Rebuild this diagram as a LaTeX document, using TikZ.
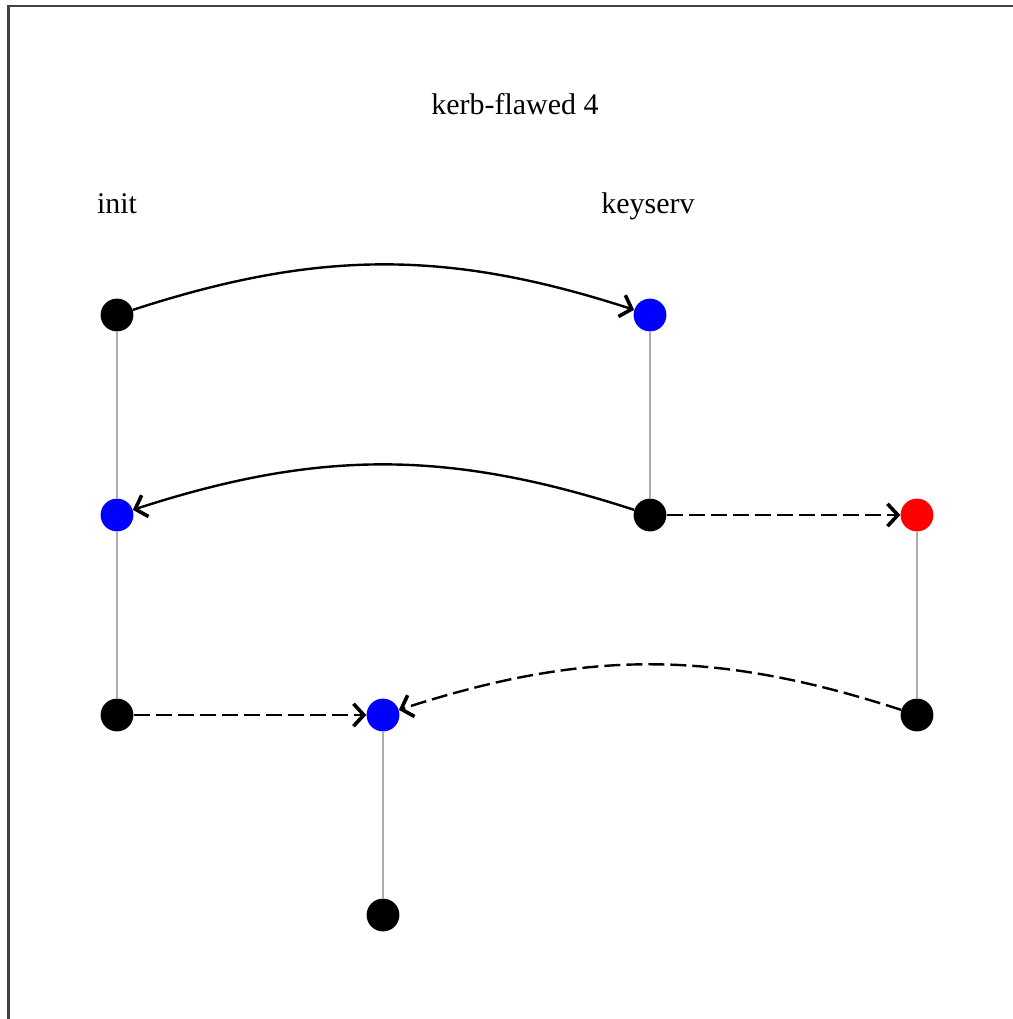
\documentclass[tikz,border=0pt]{standalone}
\usepackage{fontspec}
\setmainfont{Liberation Serif}
\usetikzlibrary{arrows.meta}

\begin{document}
\begin{tikzpicture}[x=2.5cm,y=-2.5cm,
	dot/.style={circle,fill=black,inner sep=0pt,minimum size=0.82cm},
	strand/.style={draw=gray!65,line width=0.05cm},
	msg/.style={line width=0.06cm,-{Straight Barb[length=0.26cm,width=0.56cm,line width=0.09cm]}},
	lbl/.style={anchor=base,font=\fontsize{21.3}{25}\selectfont}]
	\useasboundingbox (0,0) rectangle (10.13,10.19);
	\draw[line width=0.07cm,color=black!75] (0.085,10.19) -- (0.085,0.06) -- (10.13,0.06);
	\node[lbl] (title) at (5.15,1.14) {kerb-flawed 4};
	\node[lbl] (init) at (1.17,2.13) {init};
	\node[lbl] (keyserv) at (6.48,2.13) {keyserv};
	\node[dot] (i1) at (1.17,3.15) {};
	\node[dot,fill=blue] (i2) at (1.17,5.15) {};
	\node[dot] (i3) at (1.17,7.15) {};
	\node[dot,fill=blue] (k1) at (6.5,3.15) {};
	\node[dot] (k2) at (6.5,5.15) {};
	\node[dot,fill=red] (p1) at (9.17,5.15) {};
	\node[dot] (p2) at (9.17,7.15) {};
	\node[dot,fill=blue] (q1) at (3.83,7.15) {};
	\node[dot] (q2) at (3.83,9.15) {};
	\draw[strand] (i1) -- (i2) -- (i3);
	\draw[strand] (k1) -- (k2);
	\draw[strand] (p1) -- (p2);
	\draw[strand] (q1) -- (q2);
	\draw[msg] (i1) to[bend left=18] (k1);
	\draw[msg] (k2) to[bend right=18] (i2);
	\draw[msg,dash pattern=on 0.4cm off 0.15cm] (k2) -- (p1);
	\draw[msg,dash pattern=on 0.4cm off 0.15cm] (i3) -- (q1);
	\draw[msg,dash pattern=on 0.4cm off 0.15cm] (p2) to[bend right=18] (q1);
\end{tikzpicture}
\end{document}
